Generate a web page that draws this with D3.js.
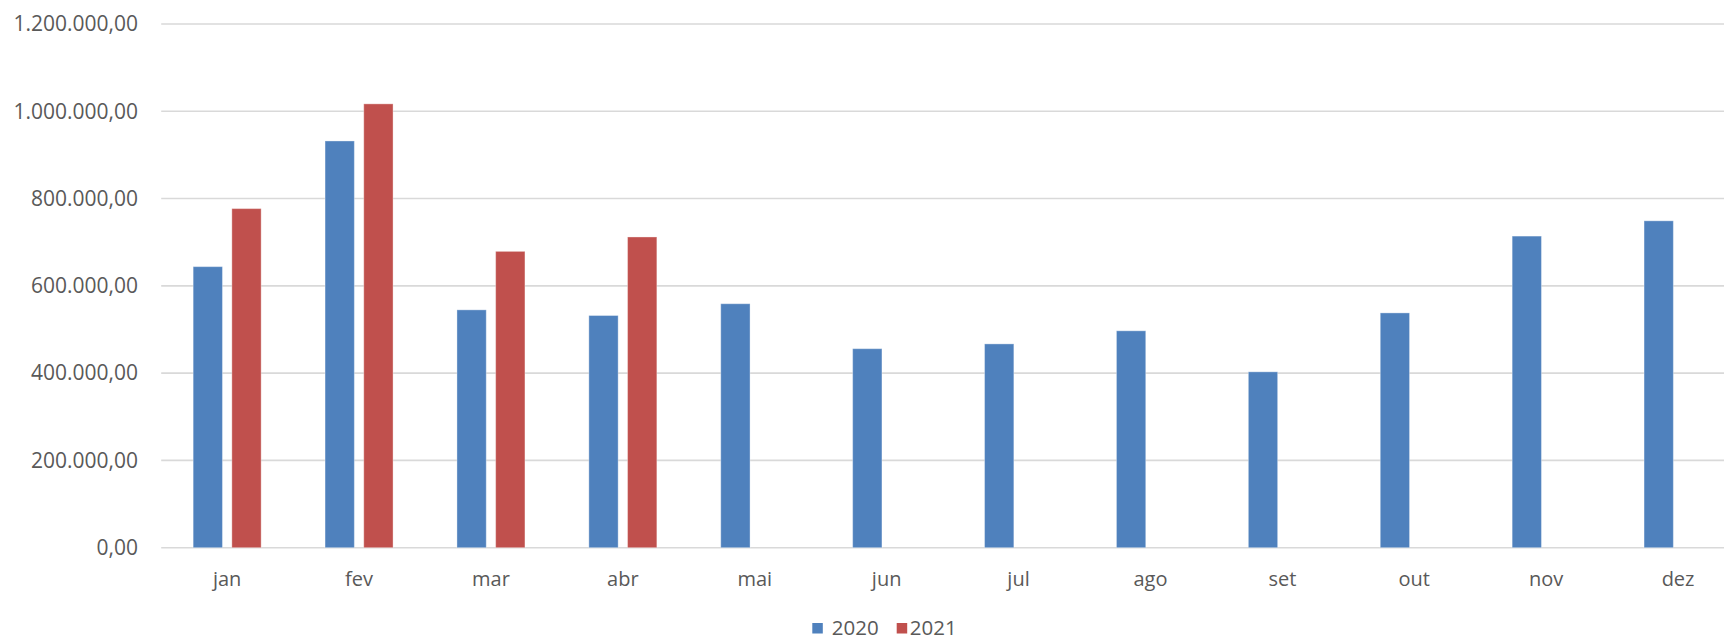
<!DOCTYPE html>
<html>
<head>
<meta charset="utf-8">
<script src="https://cdn.jsdelivr.net/npm/d3@7"></script>
<style>
  html, body { margin: 0; padding: 0; background: #ffffff; }
  svg { display: block; }
  text { font-family: "Open Sans", "Noto Sans", sans-serif; fill: #595959; }
</style>
</head>
<body>
<script>
// Monthly totals, 2020 vs 2021
const months = ["jan", "fev", "mar", "abr", "mai", "jun", "jul", "ago", "set", "out", "nov", "dez"];
const seriesNames = ["2020", "2021"];
const values2020 = [644000, 932000, 545000, 532000, 559000, 456000, 467000, 497000, 403000, 538000, 714000, 749000];
const values2021 = [777000, 1017000, 679000, 712000, null, null, null, null, null, null, null, null];
const yTicks = [0, 200000, 400000, 600000, 800000, 1000000, 1200000];
const colors = ["#4f81bd", "#c0504d"];

const W = 1724, H = 640;
const margin = { left: 161.2, right: -20, top: 24, bottom: 92.3 };

const svg = d3.select("body").append("svg")
  .attr("width", W).attr("height", H);

const x = d3.scaleBand()
  .domain(months)
  .range([margin.left, W - margin.right])
  .paddingInner(0).paddingOuter(0);

const groupWidth = 68;
const x1 = d3.scaleBand()
  .domain(seriesNames)
  .range([0, groupWidth])
  .paddingInner(0.243);

const y = d3.scaleLinear()
  .domain([0, 1200000])
  .range([H - margin.bottom, margin.top]);

const ptBR = d3.formatLocale({ decimal: ",", thousands: ".", grouping: [3], currency: ["R$", ""] });
const fmt = ptBR.format(",.2f");

// horizontal gridlines
svg.append("g")
  .selectAll("line")
  .data(yTicks)
  .join("line")
  .attr("x1", margin.left).attr("x2", W)
  .attr("y1", d => y(d)).attr("y2", d => y(d))
  .attr("stroke", "#d9d9d9")
  .attr("stroke-width", 1.6);

// y axis labels
const yAxis = d3.axisLeft(y).tickValues(yTicks).tickFormat(fmt).tickSize(0).tickPadding(0);
const gy = svg.append("g")
  .attr("transform", `translate(138,0)`)
  .call(yAxis);
gy.select(".domain").remove();
gy.selectAll("text")
  .attr("font-size", 21)
  .attr("font-family", null)
  .attr("fill", "#595959");

// x axis labels
const xAxis = d3.axisBottom(x).tickSize(0).tickPadding(0);
const gx = svg.append("g")
  .attr("transform", `translate(0,${H - margin.bottom})`)
  .call(xAxis);
gx.select(".domain").remove();
gx.selectAll("text")
  .attr("font-size", 20)
  .attr("font-family", null)
  .attr("fill", "#595959")
  .attr("dy", null)
  .attr("y", 38.5);

// bars
const rows = months.map((m, i) => ({ month: m, vals: [values2020[i], values2021[i]] }));
const groups = svg.append("g")
  .selectAll("g")
  .data(rows)
  .join("g")
  .attr("transform", d => `translate(${x(d.month) + x.bandwidth() / 2 - groupWidth / 2},0)`);

groups.selectAll("rect")
  .data(d => d.vals.map((v, k) => ({ key: seriesNames[k], value: v, k }))
    .filter(e => e.value != null))
  .join("rect")
  .attr("x", d => x1(d.key))
  .attr("width", x1.bandwidth())
  .attr("y", d => y(d.value))
  .attr("height", d => y(0) - y(d.value))
  .attr("fill", d => colors[d.k])
  .attr("stroke", "rgba(255,255,255,0.35)")
  .attr("stroke-width", 1);

// legend
const legend = svg.append("g").attr("transform", "translate(812.3,0)");
const swatchPos = [0, 84.4];
const labelPos = [19.5, 97.5];
seriesNames.forEach((name, k) => {
  legend.append("rect")
    .attr("x", swatchPos[k]).attr("y", 623)
    .attr("width", 10.5).attr("height", 10.5)
    .attr("fill", colors[k]);
  legend.append("text")
    .attr("x", labelPos[k]).attr("y", 634.5)
    .attr("font-size", 20.5)
    .text(name);
});
</script>
</body>
</html>
